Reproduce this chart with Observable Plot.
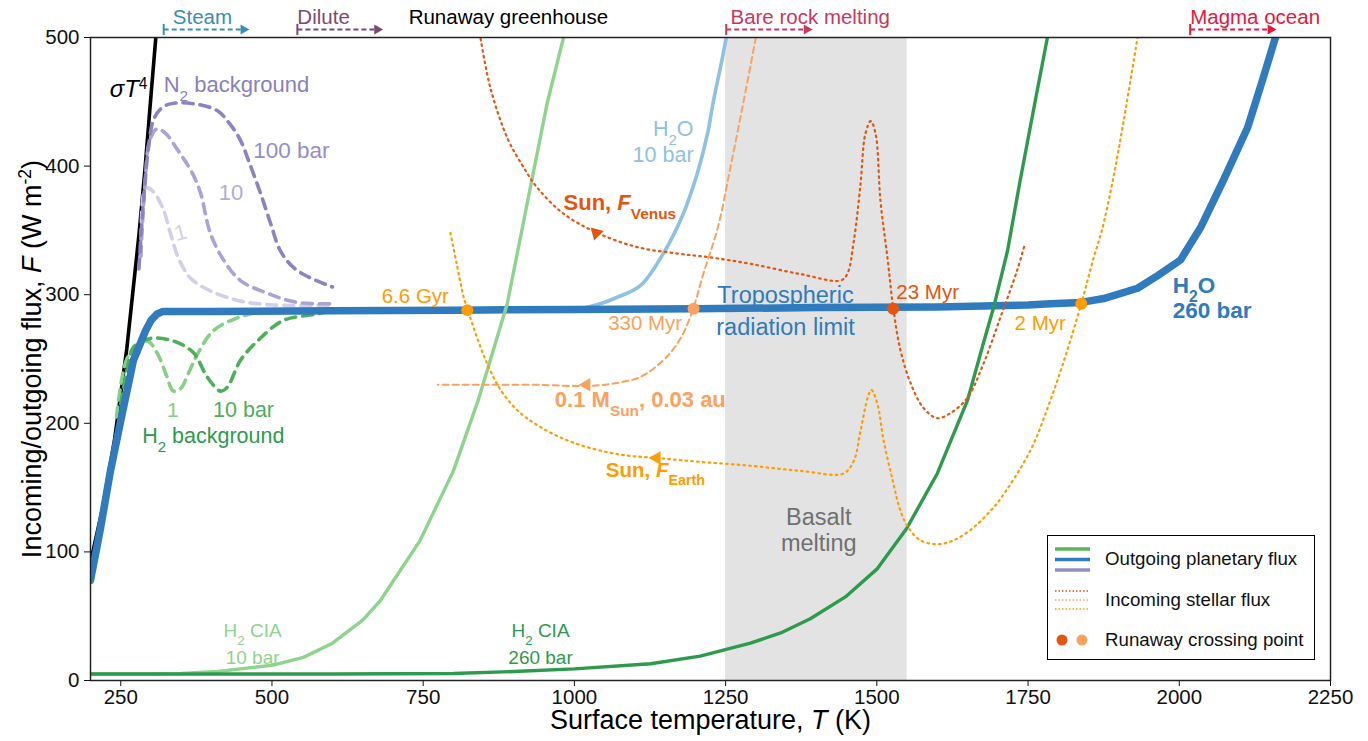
<!DOCTYPE html>
<html>
<head>
<meta charset="utf-8">
<script src="https://cdn.jsdelivr.net/npm/d3@7"></script>
<script src="https://cdn.jsdelivr.net/npm/@observablehq/plot@0.6"></script>
<style>
  html, body { margin: 0; padding: 0; background: #fff; }
  #wrap { position: relative; width: 1368px; height: 741px; font-family: 'Liberation Sans', Arial, sans-serif; }
  #legend { position: absolute; left: 1047px; top: 535px; width: 268px; height: 125px; border: 1.5px solid #000; background: #fff; box-sizing: border-box; font-size: 18.7px; color: #111; }
  #legend .lab { position: absolute; left: 57px; white-space: nowrap; }
</style>
</head>
<body>
<div id="wrap"></div>
<script>
// ---------------- data (T in K, F in W m^-2) ----------------
const xTicks = [250, 500, 750, 1000, 1250, 1500, 1750, 2000, 2250];
const yTicks = [0, 100, 200, 300, 400, 500];

const sigmaT4 = [[200,92],[220,134],[240,188],[260,258],[280,346],[290,397],[300,455],[308,500],[312,530]];

const h2o260 = [[200,78],[216,117],[233,163],[250,202],[271,249],[291,272],[300,280],[310,285],[320,287],[400,287],[600,287.5],[800,288],[1000,288.5],[1200,289],[1400,290],[1600,290.5],[1750,292],[1787,293],[1838,294],[1875,297],[1931,305],[1965,315],[2002,327],[2035,352],[2073,389],[2113,430],[2139,469],[2159,500],[2166,515]];

const h2o10 = [[1000,288],[1043,293],[1071,298],[1109,307],[1147,332],[1180,363],[1203,394],[1220,425],[1230,451],[1245,485],[1255,510]];

const n2_1bar = [[284,330],[291,383],[302,381],[319,368],[332,348],[345,329],[365,313],[398,303],[448,295],[502,292],[600,292]];
const n2_10bar = [[283,330],[290,385],[298,420],[310,429],[325,425],[342,414],[355,405],[370,393],[382,379],[398,348],[420,327],[448,311],[493,301],[542,294],[600,293]];
const n2_100bar = [[280,320],[288,375],[296,415],[305,437],[320,446],[340,449],[377,448],[410,443],[430,433],[448,420],[463,402],[481,379],[498,355],[514,334],[536,321],[564,313],[600,306]];

const h2_1bar = [[243,205],[252,235],[261,251],[275,260],[294,264],[311,254],[325,238],[337,225],[349,227],[363,240],[377,254],[403,272],[443,282],[486,287],[540,288]];
const h2_10bar = [[250,215],[260,240],[271,259],[299,266],[337,264],[370,255],[393,236],[415,225],[426,228],[448,249],[476,264],[519,280],[575,285],[600,288]];

const cia10 = [[200,5],[300,5],[350,5.5],[410,7],[448,9],[502,12],[552,18],[600,29],[650,47],[679,62],[745,109],[800,163],[841,218],[866,257],[889,293],[927,383],[955,449],[982,500],[990,520]];
const cia260 = [[200,5],[400,5],[600,5],[800,5.5],[900,7],[1000,9],[1126,13],[1208,19],[1291,29],[1341,37],[1390,48],[1448,65],[1501,87],[1549,118],[1600,161],[1650,218],[1676,262],[1693,290],[1716,334],[1737,389],[1762,451],[1782,500],[1788,515]];

const sunVenus = [[845,499],[861,461],[889,422],[916,399],[939,383],[982,363],[1038,348],[1104,337],[1170,332],[1225,329],[1291,324],[1374,316],[1440,311],[1451,316],[1462,342],[1473,386],[1481,425],[1490,435],[1498,425],[1506,373],[1518,327],[1527,290],[1539,257],[1556,231],[1577,212],[1600,204],[1622,208],[1650,220],[1676,246],[1704,282],[1732,319],[1745,340]];
const sunEarth = [[795,348],[805,325],[817,298],[823,289],[845,259],[861,241],[878,226],[906,210],[944,197],[998,185],[1071,176],[1137,173],[1208,170],[1291,167],[1374,163],[1445,161],[1462,171],[1473,194],[1485,220],[1491,226],[1501,215],[1511,187],[1526,156],[1539,132],[1552,119],[1572,109],[1600,106],[1627,109],[1660,119],[1688,132],[1704,141],[1754,179],[1787,218],[1815,257],[1838,293],[1858,328],[1872,350],[1891,391],[1908,435],[1931,500]];
const mDwarf = [[1300,500],[1280,451],[1258,399],[1237,352],[1213,316],[1197,290],[1180,270],[1164,258],[1147,249],[1109,236],[1065,231],[1022,229],[933,230],[850,230],[774,230]];

const crossT = [823, 1197, 1527, 1838];
const crossF = [288, 289, 289, 293];
const crossAge = ["6.6 Gyr", "330 Myr", "23 Myr", "2 Myr"];

const basaltMelt = [1250, 1550];

const regimeNames = ["Steam", "Dilute", "Runaway greenhouse", "Bare rock melting", "Magma ocean"];
const regimeLabelT = [336, 542, 726, 1258, 2018];
const regimeStart = [321, 542, null, 1251, 2018];
const regimeEnd = [453, 674, null, 1384, 2151];

// ---------------- build ----------------
const pts = a => a.map(([T, F]) => ({T, F}));
const FONT = "'Liberation Sans', Arial, sans-serif";

const C = {
  blue: "#2f7bbd", lblue: "#8fc1e0",
  p1: "#d2cfe9", p10: "#aaa4d4", p100: "#8c83c2",
  g1: "#86cf86", g10: "#4dae5c", gdark: "#2e9a4d", glight: "#8ed38e",
  vdark: "#e6550d", earth: "#ff9c00", mlight: "#fda15e"
};
const crossColors = [C.earth, C.mlight, C.vdark, C.earth];
const regimeColors = ["#3a8db3", "#7b4b6e", "#000000", "#c8385c", "#e8163c"];

function line(data, stroke, w, extra = {}) {
  return Plot.line(pts(data), {x: "T", y: "F", stroke, strokeWidth: w, clip: true, ...extra});
}
function label(text, T, F, opts = {}) {
  return Plot.text([{T, F, text}], {x: "T", y: "F", text: "text", fontSize: 21, ...opts});
}

const barSymbol = {draw(ctx, size) { const h = Math.sqrt(size) * 0.9; ctx.moveTo(0, -h); ctx.lineTo(0, h); }};

const regimes = regimeNames.map((name, i) => ({name, lt: regimeLabelT[i], s: regimeStart[i], e: regimeEnd[i], c: regimeColors[i], y: 500}));
const regArrows = regimes.filter(d => d.s != null);

const dashed = {strokeDasharray: "10,7"};
const dotted = {strokeDasharray: "1.6,4.2", strokeLinecap: "round"};
const crossLabels = crossT.map((T, i) => ({T, F: crossF[i], text: crossAge[i], c: crossColors[i]}));
const crossLabelPos = [[737, 299], [1117, 278], [1584, 302], [1770, 278]];

const chart = Plot.plot({
  width: 1368, height: 741,
  marginLeft: 90, marginRight: 38, marginTop: 37, marginBottom: 61,
  x: {domain: [200, 2250]},
  y: {domain: [0, 500]},
  style: {fontFamily: FONT, fontSize: "20px", background: "white", overflow: "visible", color: "#111"},
  marks: [
    Plot.rect([{a: basaltMelt[0], b: basaltMelt[1]}], {x1: "a", x2: "b", y1: 0, y2: 500, fill: "#e3e3e3"}),
    line(sigmaT4, "#000", 3.6),
    line(n2_1bar, C.p1, 3.6, {...dashed, curve: "catmull-rom"}),
    line(n2_10bar, C.p10, 3.6, {...dashed, curve: "catmull-rom"}),
    line(n2_100bar, C.p100, 3.6, {...dashed, curve: "catmull-rom"}),
    line(h2_1bar, C.g1, 3.6, {...dashed, curve: "catmull-rom"}),
    line(h2_10bar, C.g10, 3.6, {...dashed, curve: "catmull-rom"}),
    line(h2o10, C.lblue, 3.6, {curve: "catmull-rom"}),
    line(h2o260, C.blue, 7.5),
    line(cia10, C.glight, 3.4),
    line(cia260, C.gdark, 3.4),
    line(mDwarf, C.mlight, 2, {strokeDasharray: "6,4", curve: "catmull-rom"}),
    line(sunVenus, C.vdark, 2.2, {...dotted, curve: "catmull-rom"}),
    line(sunEarth, C.earth, 2.2, {...dotted, curve: "catmull-rom"}),
    // direction arrowheads on incoming curves
    Plot.dot([{T: 1036, F: 348}], {x: "T", y: "F", symbol: "triangle", r: 5, fill: C.vdark, rotate: 195}),
    Plot.dot([{T: 1136, F: 173}], {x: "T", y: "F", symbol: "triangle", r: 5, fill: C.earth, rotate: 270}),
    Plot.dot([{T: 1020, F: 230}], {x: "T", y: "F", symbol: "triangle", r: 5, fill: C.mlight, rotate: 270}),
    // crossing points and their ages
    Plot.dot(crossLabels, {x: "T", y: "F", r: 6, fill: d => d.c}),
    Plot.text(crossLabels, {x: (d, i) => crossLabelPos[i][0], y: (d, i) => crossLabelPos[i][1], text: "text", fill: d => d.c, fontSize: 20.5}),
    // labels
    label("*σT*^{4}", 263, 460, {fill: "#000", fontSize: 24}),
    label("N_{2} background", 321, 463, {fill: "#8a80c0", textAnchor: "start", fontSize: 22}),
    label("100 bar", 469, 412, {fill: "#958dc8", textAnchor: "start", fontSize: 22.5}),
    label("10", 412, 379, {fill: "#b1acd8", textAnchor: "start", fontSize: 22}),
    label("1", 349, 348, {fill: "#d2cfe9", rotate: -15, fontSize: 22}),
    label("1", 336, 210, {fill: C.g1}),
    label("10 bar", 453, 210, {fill: C.g10, fontSize: 21.5}),
    label("H_{2} background", 403, 190, {fill: C.gdark, fontSize: 21.5}),
    label("H_{2}O\n10 bar", 1197, 420, {fill: C.lblue, textAnchor: "end", lineHeight: 1.25, fontSize: 21.5}),
    label("Sun, *F*_{Venus}", 982, 371, {fill: C.vdark, textAnchor: "start", fontWeight: "bold", fontSize: 22}),
    label("Tropospheric\nradiation limit", 1349, 289, {fill: C.blue, fontSize: 23.5, lineHeight: 1.38}),
    label("H_{2}O\n260 bar", 1989, 298, {fill: C.blue, textAnchor: "start", fontWeight: "bold", lineHeight: 1.1, fontSize: 22.5}),
    label("0.1 M_{Sun}, 0.03 au", 1109, 218, {fill: C.mlight, fontWeight: "bold", fontSize: 22}),
    label("Sun, *F*_{Earth}", 1134, 163, {fill: C.earth, fontWeight: "bold", fontSize: 20.5}),
    label("Basalt\nmelting", 1404, 117, {fill: "#707070", fontSize: 23.5, lineHeight: 1.1}),
    label("H_{2} CIA\n10 bar", 468, 30, {fill: C.glight, fontSize: 19, lineHeight: 1.42}),
    label("H_{2} CIA\n260 bar", 944, 30, {fill: C.gdark, fontSize: 19, lineHeight: 1.42}),
    // regime annotations above the frame
    Plot.text(regimes, {x: "lt", y: "y", text: "name", fill: d => d.c, textAnchor: "start", dy: -20, fontSize: 20.5}),
    Plot.link(regArrows, {x1: "s", x2: "e", y1: "y", y2: "y", dy: -8, stroke: d => d.c, strokeWidth: 2, strokeDasharray: "5,3"}),
    Plot.dot(regArrows, {x: "s", y: "y", dy: -8, symbol: barSymbol, r: 3.5, stroke: d => d.c, strokeWidth: 2}),
    Plot.dot(regArrows, {x: "e", y: "y", dy: -8, symbol: "triangle", rotate: 90, r: 3.8, fill: d => d.c}),
    // axes
    Plot.axisX({ticks: xTicks, tickSize: 6, tickPadding: 3, fontSize: 20.5, label: null, tickFormat: d3.format("d")}),
    Plot.axisY({ticks: yTicks, tickSize: 6, tickPadding: 5, fontSize: 20.5, label: null}),
    Plot.text(["Surface temperature, *T* (K)"], {frameAnchor: "bottom", lineAnchor: "middle", textAnchor: "middle", dy: 40, fontSize: 27, fill: "#000"}),
    Plot.text(["Incoming/outgoing flux, *F* (W m^{-2})"], {frameAnchor: "left", lineAnchor: "middle", textAnchor: "middle", dx: -58, rotate: -90, fontSize: 27, fill: "#000"}),
    Plot.frame({stroke: "#222", strokeWidth: 1.5})
  ]
});

// rich text: _{sub}, ^{sup}, *italic*
const NS = "http://www.w3.org/2000/svg";
function richify(el) {
  const s = el.textContent;
  if (!/(_\{|\^\{|\*)/.test(s)) return;
  while (el.firstChild) el.removeChild(el.firstChild);
  const re = /_\{([^}]*)\}|\^\{([^}]*)\}|\*([^*]*)\*/g;
  let last = 0, m;
  const add = (txt, kind) => {
    const t = document.createElementNS(NS, "tspan");
    t.textContent = txt;
    if (kind === "sub") { t.setAttribute("baseline-shift", "sub"); t.style.fontSize = "70%"; }
    if (kind === "sup") { t.setAttribute("baseline-shift", "super"); t.style.fontSize = "65%"; }
    if (kind === "it") t.setAttribute("font-style", "italic");
    el.appendChild(t);
  };
  while ((m = re.exec(s))) {
    if (m.index > last) add(s.slice(last, m.index));
    if (m[1] !== undefined) add(m[1], "sub");
    else if (m[2] !== undefined) add(m[2], "sup");
    else add(m[3], "it");
    last = re.lastIndex;
  }
  if (last < s.length) add(s.slice(last));
}
chart.querySelectorAll("text").forEach(t => {
  const lines = t.querySelectorAll(":scope > tspan");
  if (lines.length) lines.forEach(richify); else richify(t);
});

const wrap = document.getElementById("wrap");
wrap.appendChild(chart);

// legend (inside the plot, lower right)
const lg = document.createElement("div");
lg.id = "legend";
lg.innerHTML = `
  <svg width="60" height="122" style="position:absolute;left:0;top:0">
    <line x1="7" x2="42" y1="13" y2="13" stroke="#5ab45a" stroke-width="3.5"/>
    <line x1="7" x2="42" y1="23.5" y2="23.5" stroke="${C.blue}" stroke-width="3.5"/>
    <line x1="7" x2="42" y1="34" y2="34" stroke="#958dc8" stroke-width="3.5"/>
    <line x1="7" x2="42" y1="55" y2="55" stroke="${C.vdark}" stroke-width="1.3" stroke-dasharray="1.5,2"/>
    <line x1="7" x2="42" y1="64" y2="64" stroke="${C.mlight}" stroke-width="1.3" stroke-dasharray="1.5,2"/>
    <line x1="7" x2="42" y1="73" y2="73" stroke="${C.earth}" stroke-width="1.3" stroke-dasharray="1.5,2"/>
    <circle cx="14" cy="104" r="5.5" fill="${C.vdark}"/>
    <circle cx="34" cy="104" r="5.5" fill="${C.mlight}"/>
  </svg>
  <div class="lab" style="top:12px">Outgoing planetary flux</div>
  <div class="lab" style="top:53px">Incoming stellar flux</div>
  <div class="lab" style="top:93px">Runaway crossing point</div>`;
wrap.appendChild(lg);
</script>
</body>
</html>
